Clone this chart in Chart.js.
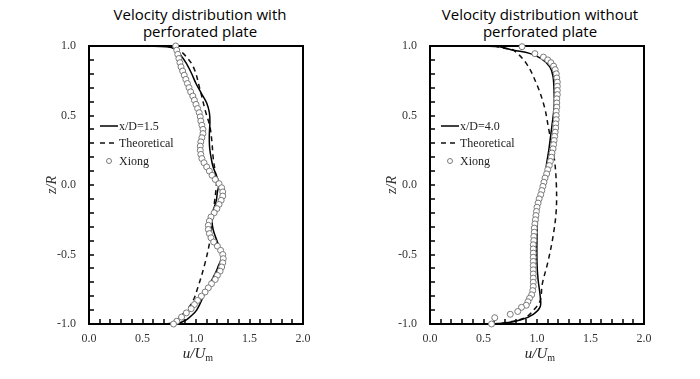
<!DOCTYPE html>
<html>
<head>
<meta charset="utf-8">
<script src="https://cdn.jsdelivr.net/npm/chart.js@4/dist/chart.umd.min.js"></script>
<style>
  html, body { margin:0; padding:0; background:#fff; }
  #wrap { position:relative; width:700px; height:379px; overflow:hidden; }
  canvas { position:absolute; top:0; }
  .title { position:absolute; top:6px; width:300px; text-align:center; font-family:"Open Sans","Noto Sans",sans-serif; font-size:15px; line-height:17px; color:#000; }
  .xt { position:absolute; top:345px; width:80px; text-align:center; font-family:"Liberation Serif",serif; font-style:italic; font-size:15px; color:#222; }
  .xt sub { font-size:10px; font-style:normal; vertical-align:-3px; }
</style>
</head>
<body>
<div id="wrap">
  <div class="title" style="left:50px;">Velocity distribution with<br>perforated plate</div>
  <div class="title" style="left:390px;">Velocity distribution without<br>perforated plate</div>
  <canvas id="c1" width="350" height="379" style="left:0;width:350px;height:379px;"></canvas>
  <canvas id="c2" width="350" height="379" style="left:350px;width:350px;height:379px;"></canvas>
  <div class="xt" style="left:158px;">u/U<sub>m</sub></div>
  <div class="xt" style="left:500px;">u/U<sub>m</sub></div>
</div>
<script>
// ---------- tick labels ----------
const xTickLabels = ['0.0', '0.5', '1.0', '1.5', '2.0'];
const yTickLabels = ['-1.0', '-0.5', '0.0', '0.5', '1.0'];

// ---------- legend labels ----------
const leftLabels = ['x/D=1.5', 'Theoretical', 'Xiong'];
const rightLabels = ['x/D=4.0', 'Theoretical', 'Xiong'];

// ---------- LEFT: with perforated plate ----------
const leftSimU = [0.55, 0.72, 0.80, 0.86, 0.91, 0.96, 1.00, 1.05, 1.10, 1.125, 1.13, 1.125, 1.125, 1.13, 1.145, 1.16, 1.19, 1.215, 1.20, 1.19, 1.16, 1.15, 1.16, 1.195, 1.225, 1.24, 1.21, 1.19, 1.15, 1.13, 1.07, 1.006, 0.95, 0.91, 0.83, 0.60];
const leftSimZ = [1.0, 0.995, 0.98, 0.93, 0.875, 0.80, 0.73, 0.66, 0.59, 0.52, 0.45, 0.37, 0.30, 0.25, 0.18, 0.13, 0.07, 0.01, -0.05, -0.11, -0.19, -0.25, -0.32, -0.40, -0.46, -0.52, -0.58, -0.62, -0.68, -0.71, -0.80, -0.90, -0.945, -0.97, -0.995, -1.0];

const leftTheoU = [0.72, 0.80, 0.88, 0.975, 1.04, 1.085, 1.13, 1.15, 1.16, 1.19, 1.19, 1.16, 1.13, 1.085, 1.02, 0.96, 0.85, 0.79, 0.70];
const leftTheoZ = [1.0, 0.99, 0.947, 0.85, 0.68, 0.54, 0.42, 0.30, 0.20, 0.036, -0.01, -0.20, -0.40, -0.56, -0.73, -0.85, -0.95, -0.99, -1.0];

const leftXiongZ = [1.00, 0.97, 0.94, 0.91, 0.88, 0.85, 0.82, 0.79, 0.76, 0.73, 0.70, 0.67, 0.64, 0.61, 0.58, 0.55, 0.52, 0.49, 0.46, 0.43, 0.40, 0.37, 0.34, 0.31, 0.28, 0.25, 0.22, 0.19, 0.16, 0.13, 0.10, 0.07, 0.04, 0.01, -0.02, -0.05, -0.08, -0.11, -0.14, -0.17, -0.20, -0.23, -0.26, -0.29, -0.32, -0.35, -0.38, -0.41, -0.44, -0.47, -0.50, -0.53, -0.56, -0.59, -0.62, -0.65, -0.68, -0.71, -0.74, -0.77, -0.80, -0.83, -0.86, -0.89, -0.92, -0.95, -0.98, -1.00];
const leftXiongU = [0.81, 0.82, 0.83, 0.84, 0.85, 0.86, 0.875, 0.89, 0.905, 0.92, 0.935, 0.95, 0.97, 0.985, 1.00, 1.015, 1.03, 1.04, 1.045, 1.055, 1.065, 1.065, 1.055, 1.045, 1.04, 1.04, 1.045, 1.055, 1.075, 1.10, 1.125, 1.15, 1.18, 1.215, 1.24, 1.25, 1.25, 1.235, 1.215, 1.195, 1.17, 1.14, 1.125, 1.115, 1.115, 1.125, 1.14, 1.165, 1.20, 1.23, 1.25, 1.255, 1.25, 1.24, 1.225, 1.20, 1.18, 1.145, 1.115, 1.085, 1.05, 1.015, 0.985, 0.955, 0.91, 0.865, 0.82, 0.79];

// ---------- RIGHT: without perforated plate ----------
const rightSimU = [0.50, 0.65, 0.78, 0.93, 1.04, 1.12, 1.15, 1.16, 1.16, 1.14, 1.11, 1.09, 1.075, 1.04, 1.01, 1.00, 1.00, 1.01, 1.03, 1.03, 0.965, 0.85, 0.70, 0.50];
const rightSimZ = [1.0, 0.995, 0.97, 0.947, 0.91, 0.85, 0.78, 0.66, 0.56, 0.43, 0.25, 0.156, 0.06, -0.012, -0.156, -0.37, -0.56, -0.68, -0.80, -0.875, -0.93, -0.97, -0.993, -1.0];

const rightTheoU = [0.60, 0.72, 0.78, 0.90, 1.00, 1.07, 1.11, 1.16, 1.18, 1.18, 1.15, 1.10, 1.05, 1.03, 0.98, 0.90, 0.78, 0.62];
const rightTheoZ = [1.0, 0.98, 0.97, 0.875, 0.72, 0.56, 0.40, 0.20, 0.02, -0.18, -0.37, -0.56, -0.71, -0.83, -0.89, -0.95, -0.98, -1.0];

const rightXiongZ = [0.995, 0.945, 0.92, 0.90, 0.88, 0.855, 0.83, 0.80, 0.77, 0.74, 0.71, 0.68, 0.65, 0.62, 0.59, 0.56, 0.53, 0.50, 0.47, 0.44, 0.41, 0.38, 0.35, 0.32, 0.29, 0.26, 0.23, 0.20, 0.17, 0.14, 0.11, 0.08, 0.05, 0.02, -0.01, -0.04, -0.07, -0.10, -0.13, -0.16, -0.19, -0.22, -0.25, -0.28, -0.31, -0.34, -0.37, -0.40, -0.43, -0.46, -0.49, -0.52, -0.55, -0.58, -0.61, -0.64, -0.67, -0.70, -0.73, -0.76, -0.79, -0.815, -0.84, -0.865, -0.88, -0.91, -0.93, -0.955, -1.0];
const rightXiongU = [0.86, 0.98, 1.06, 1.10, 1.13, 1.155, 1.17, 1.18, 1.185, 1.19, 1.19, 1.19, 1.19, 1.185, 1.185, 1.185, 1.18, 1.18, 1.18, 1.175, 1.175, 1.17, 1.165, 1.16, 1.155, 1.15, 1.14, 1.135, 1.125, 1.115, 1.10, 1.09, 1.075, 1.065, 1.055, 1.045, 1.035, 1.02, 1.01, 1.00, 0.995, 0.99, 0.985, 0.98, 0.975, 0.975, 0.97, 0.97, 0.965, 0.965, 0.965, 0.965, 0.965, 0.965, 0.965, 0.965, 0.965, 0.965, 0.965, 0.96, 0.95, 0.93, 0.915, 0.90, 0.855, 0.82, 0.75, 0.605, 0.575];

function pts(us, zs) { return us.map((u, i) => ({ x: u, y: zs[i] })); }

function labelFor(v, labels) {
  const r = Math.round(v * 10);
  if (r % 5 !== 0) return '';
  const s = (r / 10).toFixed(1);
  return labels.indexOf(s) >= 0 ? s : '';
}

const frame = {
  id: 'frame',
  beforeDatasetsDraw(chart) {
    const { ctx, chartArea: a, scales } = chart;
    ctx.save();
    ctx.strokeStyle = '#000';
    ctx.lineWidth = 1.5;
    ctx.beginPath();
    scales.x.ticks.forEach(t => {
      const px = Math.round(scales.x.getPixelForValue(t.value));
      ctx.moveTo(px, a.bottom); ctx.lineTo(px, a.bottom - 5);
    });
    scales.y.ticks.forEach(t => {
      const py = Math.round(scales.y.getPixelForValue(t.value));
      ctx.moveTo(a.left, py); ctx.lineTo(a.left + 5, py);
    });
    ctx.stroke();
    ctx.lineWidth = 2;
    ctx.strokeRect(a.left, a.top, a.right - a.left, a.bottom - a.top);
    ctx.restore();
  },
  afterDatasetsDraw(chart) {
    const { ctx, chartArea: a } = chart;
    ctx.save();
    const lg = chart.options.plugins.customLegend;
    const x0 = a.left + lg.dx;
    ctx.font = '12px "Liberation Serif", serif';
    ctx.textBaseline = 'middle';
    lg.rows.forEach((dy, i) => {
      const ds = chart.data.datasets[lg.order[i]];
      const y = a.top + dy;
      if (ds.showLine === false) {
        ctx.beginPath();
        ctx.lineWidth = 1;
        ctx.strokeStyle = ds.borderColor;
        ctx.fillStyle = '#fff';
        ctx.arc(x0 + 9, y, 2.5, 0, Math.PI * 2);
        ctx.fill(); ctx.stroke();
      } else {
        ctx.beginPath();
        ctx.lineWidth = ds.borderWidth;
        ctx.strokeStyle = ds.borderColor;
        ctx.setLineDash(ds.borderDash || []);
        ctx.moveTo(x0, y); ctx.lineTo(x0 + 18, y);
        ctx.stroke();
        ctx.setLineDash([]);
      }
      ctx.fillStyle = '#222';
      ctx.fillText(ds.label, x0 + 19, y + 1);
    });
    ctx.restore();
  }
};

function makeChart(id, labels, sim, theo, xiong, yAxisWidth, padRight, yTitlePad) {
  return new Chart(document.getElementById(id), {
    type: 'scatter',
    data: {
      datasets: [
        { label: labels[2], data: xiong, showLine: false, pointRadius: 3, pointBorderWidth: 1, clip: false,
          borderColor: '#7a7a7a', pointBorderColor: '#7a7a7a', pointBackgroundColor: '#fff', backgroundColor: '#fff', order: 0 },
        { label: labels[0], data: sim, showLine: true, pointRadius: 0, borderColor: '#000', borderWidth: 1.5, tension: 0.35, order: 1 },
        { label: labels[1], data: theo, showLine: true, pointRadius: 0, borderColor: '#111', borderWidth: 1.5, borderDash: [5, 4], tension: 0.35, order: 2 }
      ]
    },
    options: {
      responsive: false,
      animation: false,
      events: [],
      layout: { padding: { left: 0, right: padRight, top: 46, bottom: 0 } },
      plugins: {
        legend: { display: false },
        tooltip: { enabled: false },
        customLegend: { dx: 11, rows: [80, 97, 115], order: [1, 2, 0] }
      },
      scales: {
        x: {
          type: 'linear', min: 0, max: 2,
          grid: { display: false, drawTicks: false, tickLength: 0 },
          border: { display: false },
          ticks: { stepSize: 0.1, autoSkip: false, maxRotation: 0, padding: 8, color: '#333',
            font: { family: '"Liberation Serif", serif', size: 12 },
            callback: v => labelFor(v, xTickLabels) },
          afterFit: s => { s.height = 55; }
        },
        y: {
          type: 'linear', min: -1, max: 1,
          grid: { display: false, drawTicks: false, tickLength: 0 },
          border: { display: false },
          ticks: { stepSize: 0.1, autoSkip: false, padding: 13, color: '#333',
            font: { family: '"Liberation Serif", serif', size: 12 },
            callback: v => labelFor(v, yTickLabels) },
          title: { display: true, text: 'z/R', color: '#333', padding: { top: yTitlePad, bottom: 0 },
            font: { family: '"Liberation Serif", serif', size: 14, style: 'italic' } },
          afterFit: s => { s.width = yAxisWidth; }
        }
      }
    },
    plugins: [frame]
  });
}

makeChart('c1', leftLabels, pts(leftSimU, leftSimZ), pts(leftTheoU, leftTheoZ), pts(leftXiongU, leftXiongZ), 89, 47, 44);
makeChart('c2', rightLabels, pts(rightSimU, rightSimZ), pts(rightTheoU, rightTheoZ), pts(rightXiongU, rightXiongZ), 80, 56, 34);
</script>
</body>
</html>
